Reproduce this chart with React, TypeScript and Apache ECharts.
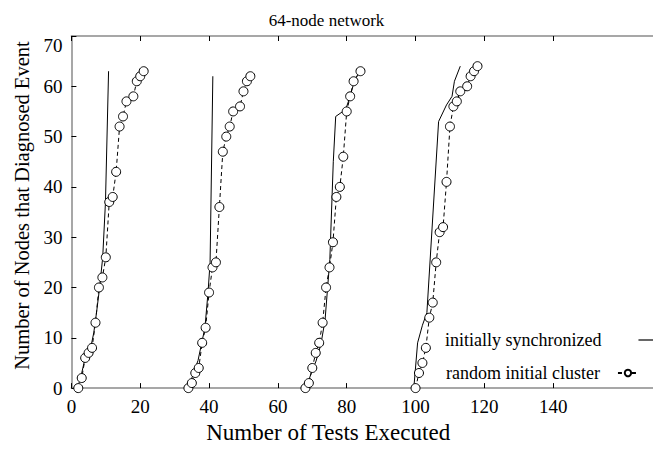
import React, { useEffect, useRef } from 'react';
import * as echarts from 'echarts';

const titleText = '64-node network';
const xName = 'Number of Tests Executed';
const yName = 'Number of Nodes that Diagnosed Event';
const syncName = 'initially synchronized';
const randName = 'random initial cluster';

const xTickValues = [0, 20, 40, 60, 80, 100, 120, 140];

const sync1: [number, number][] = [[1.8, 0], [3, 3], [4, 6], [5.6, 8], [6.5, 11], [7.3, 15], [8.2, 20], [9.1, 26], [9.9, 37], [10.8, 63]];
const sync2: [number, number][] = [[33.8, 0], [35, 2], [36.8, 5.5], [38.8, 12], [39.7, 19], [40.3, 25], [41.1, 62]];
const sync3: [number, number][] = [[68.2, 0], [69.7, 3], [71.1, 5.4], [72.5, 8.7], [73.7, 13.5], [75.1, 25.6], [76.1, 45], [76.8, 54], [79.7, 55.4], [81, 58], [82.2, 61], [83.7, 63]];
const sync4: [number, number][] = [[99.5, 0], [100.6, 9], [102, 12.5], [103.3, 15], [106.7, 53], [109, 56.3], [110.6, 58], [111.3, 61], [113, 64]];

const rand1: [number, number][] = [[2, 0], [3, 2], [4, 6], [5, 7], [6, 8], [7, 13], [8, 20], [9, 22], [10, 26], [11, 37], [12, 38], [13, 43], [14, 52], [15, 54], [16, 57], [18, 58], [19, 61], [20, 62], [21, 63]];
const rand2: [number, number][] = [[34, 0], [35, 1], [36, 3], [37, 4], [38, 9], [39, 12], [40, 19], [41, 24], [42, 25], [43, 36], [44, 47], [45, 50], [46, 52], [47, 55], [49, 56], [50, 59], [51, 61], [52, 62]];
const rand3: [number, number][] = [[68, 0], [69, 1], [70, 4], [71, 7], [72, 9], [73, 13], [74, 20], [75, 24], [76, 29], [77, 38], [78, 40], [79, 46], [80, 55], [81, 58], [82, 61], [84, 63]];
const rand4: [number, number][] = [[100, 0], [101, 3], [102, 5], [103, 8], [104, 14], [105, 17], [106, 25], [107, 31], [108, 32], [109, 41], [110, 52], [111, 56], [112, 57], [113, 59], [115, 60], [116, 62], [117, 63], [118, 64]];

const syncClusters = [sync1, sync2, sync3, sync4];
const randClusters = [rand1, rand2, rand3, rand4];

const FONT = "'Liberation Serif', 'Times New Roman', serif";

export default function App() {
  const ref = useRef<HTMLDivElement>(null);
  useEffect(() => {
    if (!ref.current) return;
    const chart = echarts.init(ref.current, undefined, { renderer: 'svg' });
    const axisLineStyle = { color: '#8a8a8a', width: 1.5 };
    const series: any[] = [];
    syncClusters.forEach((d) => {
      series.push({
        name: syncName,
        type: 'line',
        data: d,
        symbol: 'none',
        lineStyle: { color: '#000', width: 1 },
        itemStyle: { color: '#000' },
        z: 2,
      });
    });
    randClusters.forEach((d) => {
      series.push({
        name: randName,
        type: 'line',
        data: d,
        symbol: 'circle',
        symbolSize: 9,
        lineStyle: { color: '#000', width: 1, type: [4, 3] },
        itemStyle: { color: '#fff', borderColor: '#000', borderWidth: 1 },
        z: 3,
      });
    });
    const legendText = { fontFamily: FONT, fontSize: 18, color: '#000' };
    chart.setOption({
      animation: false,
      backgroundColor: '#fff',
      title: {
        text: titleText,
        left: 'center',
        top: 7,
        textStyle: { fontFamily: FONT, fontSize: 17, fontWeight: 'normal', color: '#000' },
      },
      legend: [
        {
          data: [{ name: syncName, icon: 'path://M0,0 L30,0 L30,1.2 L0,1.2 Z' }],
          orient: 'vertical',
          left: 440,
          top: 326,
          align: 'right',
          itemWidth: 30,
          itemHeight: 1.2,
          textStyle: { ...legendText, padding: [0, 32, 0, 0] },
        },
        {
          data: [randName],
          orient: 'vertical',
          left: 441,
          top: 359,
          align: 'right',
          itemWidth: 20,
          itemHeight: 8,
          textStyle: { ...legendText, padding: [0, 13, 0, 0] },
        },
      ],
      grid: { left: 71.4, top: 36, right: 0, bottom: 54.7, containLabel: false },
      xAxis: [
        {
          type: 'value',
          min: 0,
          max: 169,
          position: 'bottom',
          name: xName,
          nameLocation: 'middle',
          nameGap: 31,
          nameTextStyle: { fontFamily: FONT, fontSize: 23, color: '#000', padding: [0, 68, 0, 0] },
          axisLine: { show: true, lineStyle: axisLineStyle },
          axisTick: { show: true, inside: true, length: 5, customValues: xTickValues, lineStyle: { color: '#000' } },
          axisLabel: { customValues: xTickValues, fontFamily: FONT, fontSize: 19, color: '#000', margin: 9 },
          splitLine: { show: false },
        },
        {
          type: 'value',
          min: 0,
          max: 169,
          position: 'top',
          axisLine: { show: true, lineStyle: axisLineStyle },
          axisTick: { show: true, inside: true, length: 5, customValues: xTickValues, lineStyle: { color: '#000' } },
          axisLabel: { show: false },
          splitLine: { show: false },
        },
      ],
      yAxis: {
        type: 'value',
        min: 0,
        max: 70,
        interval: 10,
        name: yName,
        nameLocation: 'middle',
        nameGap: 37,
        nameTextStyle: { fontFamily: FONT, fontSize: 20.5, color: '#000', padding: [0, 0, 0, 13] },
        axisLine: { show: true, lineStyle: axisLineStyle },
        axisTick: { show: true, inside: true, length: 5, lineStyle: { color: '#000' } },
        axisLabel: {
          fontFamily: FONT,
          fontSize: 19,
          color: '#000',
          margin: 9,
          formatter: (v: number) => (v === 70 ? '{top|70}' : String(v)),
          rich: { top: { fontFamily: FONT, fontSize: 19, color: '#000', padding: [18, 0, 0, 0] } },
        },
        splitLine: { show: false },
      },
      series,
    });
    return () => chart.dispose();
  }, []);
  return <div ref={ref} style={{ position: 'fixed', left: 0, top: 0, width: 653, height: 449 }} />;
}
